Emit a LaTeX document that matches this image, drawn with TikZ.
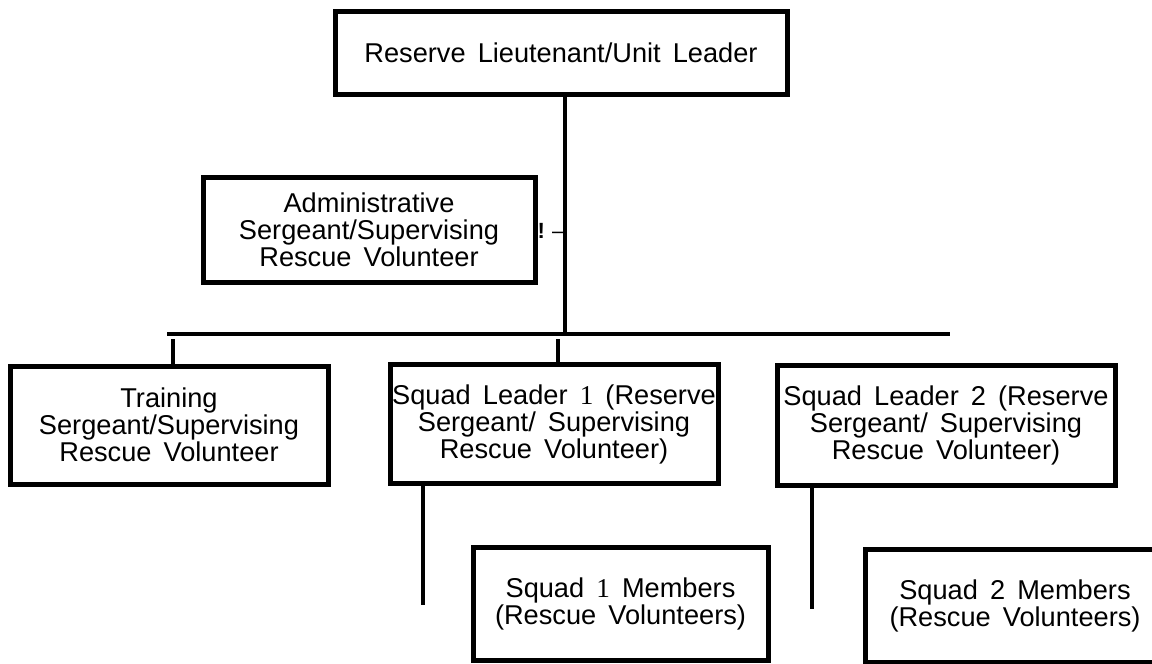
\documentclass[tikz,border=0pt]{standalone}
\usepackage{fontspec}
\setmainfont{Liberation Sans}[WordSpace=1.6]
\newfontfamily\serifone{Liberation Serif}
\usetikzlibrary{positioning}

\begin{document}
\begin{tikzpicture}[x=0.5pt,y=-0.5pt,line width=2.5pt,semithick]
  \tikzstyle{post}=[draw=black,line width=2.5pt,align=center,inner sep=1pt,
                    font=\fontsize{13.6}{13.5}\selectfont]
  \tikzstyle{wire}=[line width=2.4pt]
  \useasboundingbox (0,0) rectangle (1152,664);

  \node[post, minimum width=226pt, minimum height=41.5pt] (lead)    at (561,52.5)   {Reserve Lieutenant/Unit Leader};
  \node[post, minimum width=166pt, minimum height=52.5pt] (admin)   at (369,229.5)  {Administrative\\Sergeant/Supervising\\Rescue Volunteer};
  \node[post, minimum width=159pt, minimum height=59pt]   (train)   at (169,425)    {Training\\Sergeant/Supervising\\Rescue Volunteer};
  \node[post, minimum width=164pt, minimum height=59.5pt] (sqlead1) at (554,424)    {Squad Leader {\serifone 1} (Reserve\\Sergeant/ Supervising\\Rescue Volunteer)};
  \node[post, minimum width=169pt, minimum height=60pt]   (sqlead2) at (946,425)    {Squad Leader 2 (Reserve\\Sergeant/ Supervising\\Rescue Volunteer)};
  \node[post, minimum width=147.5pt, minimum height=56.5pt] (squad1) at (620.5,603.5) {Squad {\serifone 1} Members\\(Rescue Volunteers)};
  \node[post, minimum width=150pt, minimum height=56.5pt] (squad2)  at (1015,605.5)  {Squad 2 Members\\(Rescue Volunteers)};
  \node[font=\fontsize{11}{11}\selectfont, inner sep=0pt] (mark) at (551,231) {\textbf{!}\,\,--};

  % branch points
  \coordinate (hub)   at (565,334);
  \coordinate (barL)  at (167,334);
  \coordinate (barR)  at (950,334);
  \coordinate (stub1) at (173,339);
  \coordinate (stub2) at (558,339);
  \coordinate (end1)  at (423,605);
  \coordinate (end2)  at (812,609);

  \draw[wire] (lead.south -| hub) -- (hub);
  \draw[wire] (barL) -- (barR);
  \draw[wire] (stub1) -- (train.north -| stub1);
  \draw[wire] (stub2) -- (sqlead1.north -| stub2);
  \draw[wire] (sqlead1.south -| end1) -- (end1);
  \draw[wire] (sqlead2.south -| end2) -- (end2);
\end{tikzpicture}
\end{document}
